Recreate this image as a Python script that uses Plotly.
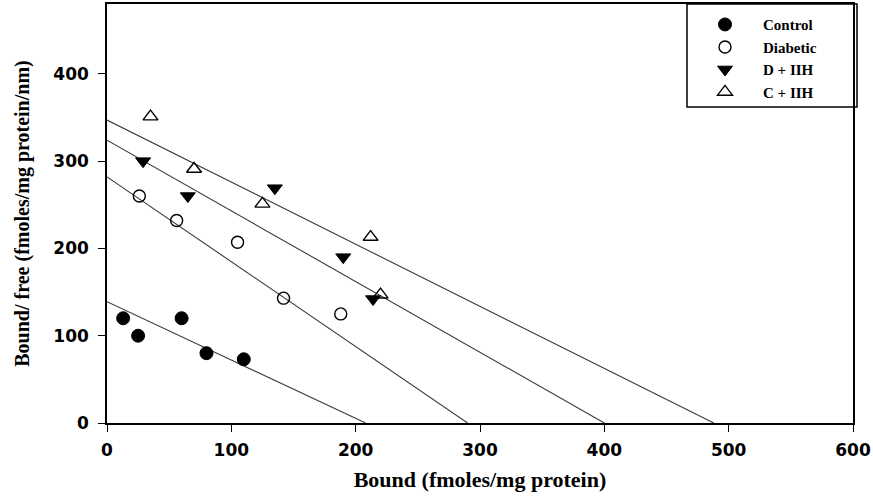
import plotly.graph_objects as go

# ---- data ----
series_names = ["Control", "Diabetic", "D + IIH", "C + IIH"]

control_x = [13, 25, 60, 80, 110]
control_y = [120, 100, 120, 80, 73]

diabetic_x = [26, 56, 105, 142, 188]
diabetic_y = [260, 232, 207, 143, 125]

d_iih_x = [29, 65, 135, 190, 214]
d_iih_y = [300, 260, 269, 190, 142]

c_iih_x = [35, 70, 125, 212, 220]
c_iih_y = [351, 291, 251, 213, 147]

# fitted Scatchard lines: y-intercept (B/F) and x-intercept (Bmax)
line_y_intercepts = [139, 282, 324, 347]
line_x_intercepts = [208, 290, 400, 488]

x_ticks = [0, 100, 200, 300, 400, 500, 600]
y_ticks = [0, 100, 200, 300, 400]

# ---- figure ----
W, H = 873, 497
ML, MR, MT, MB = 107, 20, 4, 74

fig = go.Figure()

for yi, xi in zip(line_y_intercepts, line_x_intercepts):
    fig.add_trace(go.Scatter(
        x=[0, xi], y=[yi, 0], mode="lines",
        line=dict(color="#3a3a3a", width=1.1),
        showlegend=False, hoverinfo="skip"))

marker_styles = [
    dict(symbol="circle", size=13, color="black", line=dict(color="black", width=1)),
    dict(symbol="circle-open", size=12, color="black", line=dict(color="black", width=1.4)),
    dict(symbol="triangle-down", size=13, color="black", line=dict(color="black", width=1)),
    dict(symbol="triangle-up-open", size=13, color="black", line=dict(color="black", width=1.4)),
]
xs = [control_x, diabetic_x, d_iih_x, c_iih_x]
ys = [control_y, diabetic_y, d_iih_y, c_iih_y]
for name, x, y, m in zip(series_names, xs, ys, marker_styles):
    fig.add_trace(go.Scatter(x=x, y=y, mode="markers", name=name, marker=m))

pw = W - ML - MR
ph = H - MT - MB
leg_left = (687 - ML) / pw
leg_right = (857 - ML) / pw
leg_bottom = (H - MB - 107) / ph

fig.add_shape(type="rect", xref="paper", yref="paper",
              x0=leg_left, x1=leg_right, y0=leg_bottom, y1=1.0,
              line=dict(color="black", width=1.5), fillcolor="rgba(0,0,0,0)",
              layer="above")

tick_font = dict(family="DejaVu Sans", size=17, color="black", weight="bold")
title_font_x = dict(family="Liberation Serif", size=22, color="black", weight="bold")
title_font_y = dict(family="Liberation Serif", size=20, color="black", weight="bold")

fig.update_layout(
    width=W, height=H,
    margin=dict(l=ML, r=MR, t=MT, b=MB, autoexpand=False),
    plot_bgcolor="white", paper_bgcolor="white",
    showlegend=True,
    legend=dict(x=leg_left, y=0.99, xanchor="left", yanchor="top",
                bgcolor="rgba(0,0,0,0)", borderwidth=0,
                itemwidth=66, tracegroupgap=0,
                font=dict(family="Liberation Serif", size=15, color="black", weight="bold")),
    xaxis=dict(range=[0, 600], tickvals=x_ticks, ticks="outside", ticklen=7,
               tickwidth=1.3, tickcolor="black",
               showline=True, linecolor="black", linewidth=1.5, mirror=True,
               showgrid=False, zeroline=False, tickfont=tick_font,
               ticklabelstandoff=4,
               title=dict(text="Bound (fmoles/mg protein)", font=title_font_x, standoff=12)),
    yaxis=dict(range=[0, 480], tickvals=y_ticks, ticks="outside", ticklen=7,
               tickwidth=1.3, tickcolor="black",
               showline=True, linecolor="black", linewidth=1.5, mirror=True,
               showgrid=False, zeroline=False, tickfont=tick_font,
               ticklabelstandoff=6,
               title=dict(text="Bound/ free (fmoles/mg protein/nm)", font=title_font_y, standoff=18)),
)

fig.write_html("out.html", config={"displayModeBar": False},
               post_script="document.body.style.margin='0';")
